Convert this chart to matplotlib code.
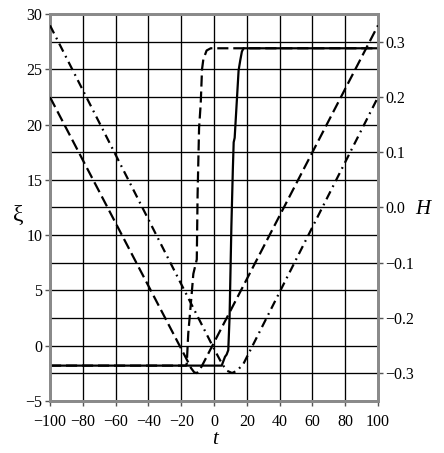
import matplotlib
matplotlib.use("Agg")
import matplotlib.pyplot as plt
import numpy as np

# ---- data ----
# xi curves (left axis)
t_xi_dash = [-100, -17, -16.6, -15.7, -13.6, -12.6, -10.5, -10.0, -9.1, -8.1, -7.3, -6.5, -4.5, -2, 100]
xi_dash   = [-1.8, -1.8, -1.6, 1.1, 4.7, 6.5, 7.8, 13.7, 19.7, 21.9, 25.0, 25.9, 26.7, 26.9, 26.9]

t_xi_solid = [-100, 4.7, 5.7, 6.7, 7.7, 8.7, 9.5, 10.6, 11.5, 12.0, 12.6, 15.0, 16.0, 17.0, 18.0, 100]
xi_solid   = [-1.8, -1.8, -1.4, -1.0, -0.8, -0.4, 2.6, 10.8, 16.0, 18.4, 18.8, 24.9, 25.8, 26.6, 26.9, 26.9]

# H curves (right axis)
t_H_dash = [-100, -20, -16, -14, -12, -10.5, -9, -7, 100]
H_dash   = [0.200, -0.256, -0.279, -0.291, -0.299, -0.300, -0.296, -0.285, 0.330]

t_H_dashdot = [-100, 0, 5, 8, 11, 14, 18, 100]
H_dashdot   = [0.330, -0.256, -0.284, -0.296, -0.300, -0.296, -0.283, 0.200]

xticks = [-100, -80, -60, -40, -20, 0, 20, 40, 60, 80, 100]
xi_ticks = [-5, 0, 5, 10, 15, 20, 25, 30]
H_ticks = [-0.3, -0.2, -0.1, 0.0, 0.1, 0.2, 0.3]

# ---- figure ----
plt.rcParams['font.family'] = ['Liberation Serif', 'DejaVu Serif']
fig = plt.figure(figsize=(4.44, 4.53), dpi=100)
ax = fig.add_axes([50/444, 1 - 401/453, (378-50)/444, (401-14)/453])
ax2 = ax.twinx()

ax.set_xlim(-100, 100)
ax.set_ylim(-5, 30)
ax2.set_ylim(-0.3507, 0.3507)

ax.set_xticks(xticks)
ax.set_xticklabels([("\u2212%d" % -v) if v < 0 else "%d" % v for v in xticks])
ax.set_yticks(xi_ticks)
ax.set_yticklabels([("\u2212%d" % -v) if v < 0 else "%d" % v for v in xi_ticks])
ax2.set_yticks(H_ticks)
ax2.set_yticklabels([("\u2212%.1f" % -v) if v < 0 else "%.1f" % v for v in H_ticks])

gridkw = dict(color='black', linewidth=0.95)
ax.grid(True, axis='both', **gridkw)
ax2.grid(True, axis='y', **gridkw)
ax.set_axisbelow(True)

for a in (ax, ax2):
    for s in a.spines.values():
        s.set_color('#8a8a8a')
        s.set_linewidth(2.0)
    a.tick_params(direction='out', length=3.5, width=1, color='#555555',
                  labelsize=11.5, pad=2)
ax.tick_params(axis='x', pad=6)

lw = 1.6
ax.plot(t_xi_solid, xi_solid, color='black', lw=lw, linestyle='-', zorder=5)
ax.plot(t_xi_dash, xi_dash, color='black', lw=lw, linestyle=(0, (5, 2.2)), zorder=5)
ax2.plot(t_H_dash, H_dash, color='black', lw=lw, linestyle=(0, (5, 2.2)), zorder=5)
ax2.plot(t_H_dashdot, H_dashdot, color='black', lw=lw, linestyle=(0, (4, 2.2, 0.8, 2.2)), zorder=5)

fig.text(18/444, 1 - 215/453, "\u03be", fontsize=17, ha='center', va='center')
fig.text(423/444, 1 - 210/453, "H", fontsize=15, style='italic', ha='center', va='center')
fig.text(215/444, 1 - 439/453, "t", fontsize=15, style='italic', ha='center', va='center')

fig.savefig("out.png", dpi=100)
